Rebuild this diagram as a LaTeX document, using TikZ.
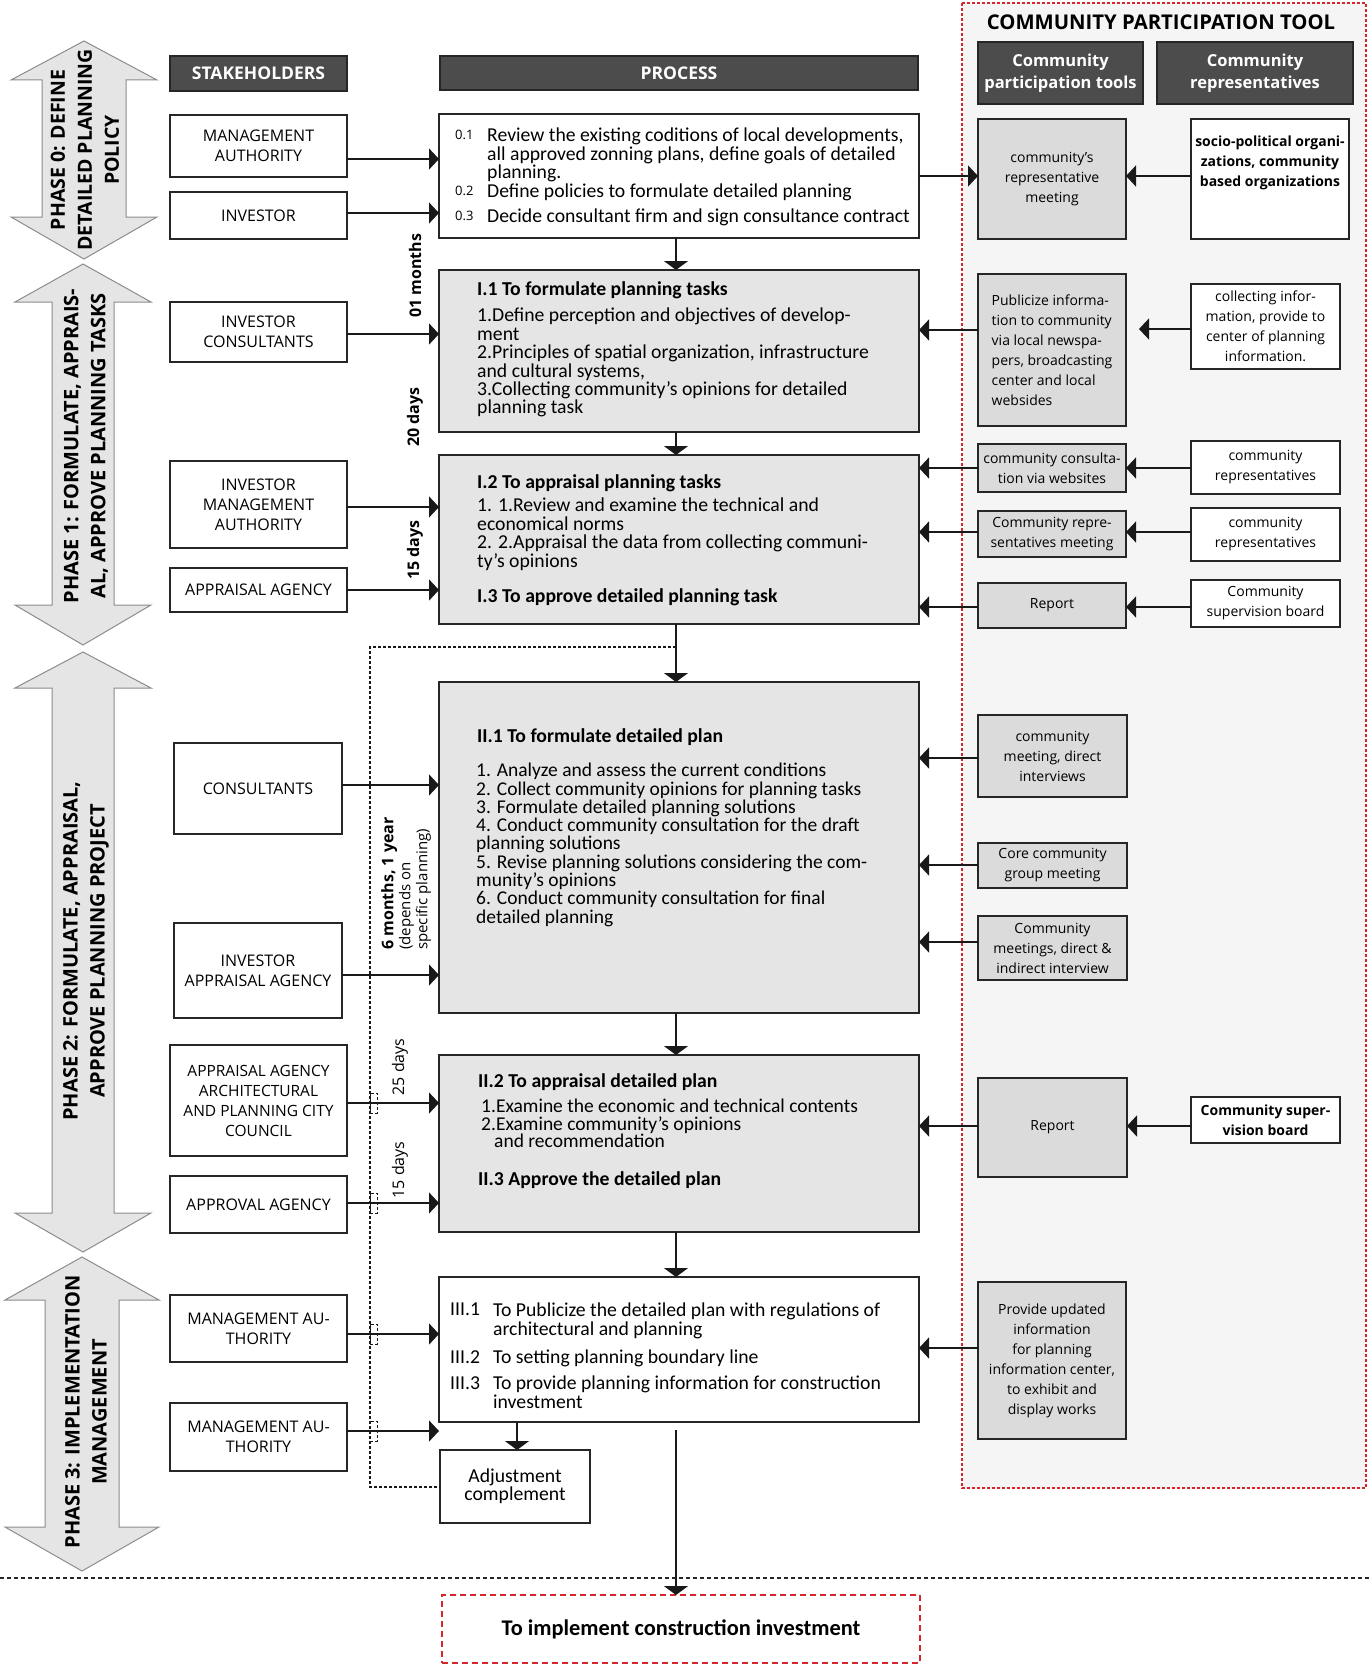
\documentclass[tikz,border=0pt]{standalone}
\usepackage{fontspec}
\setmainfont{Carlito}
\newfontfamily\osans{Open Sans}
\usetikzlibrary{arrows.meta}
\definecolor{redd}{HTML}{D7262B}
\tikzset{
  sz/.style 2 args={minimum width=#1pt, minimum height=#2pt},
  box/.style={draw=black!85, line width=1.3pt, inner sep=0pt, outer sep=0pt, align=center},
  sbox/.style={box, fill=white, font=\osans\fontsize{16}{20}\selectfont},
  hbox/.style={box, fill=black!70, text=white, font=\osans\bfseries\fontsize{16.5}{22}\selectfont},
  pbox/.style={box, fill=black!10},
  wbox/.style={box, fill=white},
  tbox/.style={box, fill=black!14, font=\osans\fontsize{14}{20}\selectfont},
  rbox/.style={box, fill=white, font=\osans\fontsize{14}{20}\selectfont},
  ptxt/.style={inner sep=0pt, anchor=north west, align=left, font=\fontsize{19.7}{18.4}\selectfont},
  ptit/.style={inner sep=0pt, anchor=north west, align=left, font=\bfseries\fontsize{19.7}{18.4}\selectfont},
  numl/.style={inner sep=0pt, anchor=north west, font=\osans\fontsize{13}{18}\selectfont},
  arr/.style={-{Triangle[length=10pt,width=21pt]}, line width=1.3pt, draw=black!90},
  darr/.style={-{Triangle[length=9pt,width=24pt]}, line width=1.3pt, draw=black!90},
  fb/.style={line width=1.1pt, dash pattern=on 3pt off 2pt, draw=black!90},
  phase/.style={fill=black!10, draw=black!45, line width=1pt},
  phtxt/.style={rotate=90, align=center, inner sep=0pt, font=\osans\bfseries\fontsize{20}{27}\selectfont},
  tlab/.style={rotate=90, inner sep=0pt, font=\osans\bfseries\fontsize{16}{18}\selectfont},
  tlabr/.style={rotate=90, inner sep=0pt, font=\osans\fontsize{16}{18}\selectfont}
}
\newcommand\phasearrow[7]{%
  \draw[phase] (#1,#2) -- (#1+#6,#3) -- (#1+#7,#3) -- (#1+#7,#4) -- (#1+#6,#4) -- (#1,#5)
    -- (#1-#6,#4) -- (#1-#7,#4) -- (#1-#7,#3) -- (#1-#6,#3) -- cycle;}
\begin{document}
\begin{tikzpicture}[x=1pt,y=-1pt]
\useasboundingbox (0,0) rectangle (1370,1667);
\fill[white] (0,0) rectangle (1370,1667);

% community region
\draw[redd, dash pattern=on 3pt off 2pt, line width=1.2pt, fill=black!4] (962,3) rectangle (1366,1488);
\node[font=\osans\bfseries\fontsize{20.3}{22}\selectfont] (cpt) at (1161,22) {COMMUNITY PARTICIPATION TOOL};

% phase arrows
\phasearrow{84}{41}{80}{217}{259}{73}{42}
\phasearrow{83}{264}{302}{605}{645}{68}{31}
\phasearrow{83}{652}{688}{1213}{1252}{68}{31}
\phasearrow{82}{1257}{1300}{1527}{1571}{77}{37}
\node[phtxt, font=\osans\bfseries\fontsize{19.5}{27}\selectfont] (ph0) at (85,150) {PHASE 0: DEFINE\\DETAILED PLANNING\\POLICY};
\node[phtxt] (ph1) at (86,446) {PHASE 1: FORMULATE, APPRAIS-\\AL, APPROVE PLANNING TASKS};
\node[phtxt] (ph2) at (86,951) {PHASE 2: FORMULATE, APPRAISAL,\\APPROVE PLANNING PROJECT};
\node[phtxt] (ph3) at (86,1412) {PHASE 3: IMPLEMENTATION\\MANAGEMENT};

% headers
\node[hbox, sz={177}{35}, font=\osans\bfseries\fontsize{17.5}{22}\selectfont] (hst) at (258.5,73.5) {STAKEHOLDERS};
\node[hbox, sz={478}{34}, font=\osans\bfseries\fontsize{17.5}{22}\selectfont] (hpr) at (679,73) {PROCESS};
\node[hbox, sz={165}{62}] (hct) at (1060.5,73) {Community\\participation tools};
\node[hbox, sz={196}{62}] (hcr) at (1255,73) {Community\\representatives};

% stakeholders
\node[sbox, sz={177}{62}] (s1) at (258.5,146) {MANAGEMENT\\AUTHORITY};
\node[sbox, sz={177}{47}] (s2) at (258.5,215.5) {INVESTOR};
\node[sbox, sz={177}{60}] (s3) at (258.5,332) {INVESTOR\\CONSULTANTS};
\node[sbox, sz={177}{87}] (s4) at (258.5,504.5) {INVESTOR\\MANAGEMENT\\AUTHORITY};
\node[sbox, sz={177}{44}] (s5) at (258.5,590) {APPRAISAL AGENCY};
\node[sbox, sz={168}{91}] (s6) at (258,788.5) {CONSULTANTS};
\node[sbox, sz={168}{95}] (s7) at (258,970.5) {INVESTOR\\APPRAISAL AGENCY};
\node[sbox, sz={177}{111}, font=\osans\fontsize{15.5}{20}\selectfont] (s8) at (258.5,1100.5) {APPRAISAL AGENCY\\ARCHITECTURAL\\AND PLANNING CITY\\COUNCIL};
\node[sbox, sz={177}{57}] (s9) at (258.5,1204.5) {APPROVAL AGENCY};
\node[sbox, sz={177}{67}] (s10) at (258.5,1328.5) {MANAGEMENT AU-\\THORITY};
\node[sbox, sz={177}{68}] (s11) at (258.5,1437) {MANAGEMENT AU-\\THORITY};

% process boxes
\node[wbox, sz={480}{124}] (p0) at (679,176) {};
\node[pbox, sz={480}{162}] (p11) at (679,351) {};
\node[pbox, sz={480}{169}] (p12) at (679,539.5) {};
\node[pbox, sz={480}{331}] (p21) at (679,847.5) {};
\node[pbox, sz={480}{177}] (p22) at (679,1143.5) {};
\node[wbox, sz={480}{145}] (p3) at (679,1349.5) {};
\node[wbox, sz={150}{73}, font=\fontsize{19.7}{18.4}\selectfont] (adj) at (515,1486.5) {Adjustment\\complement};
\node[box, draw=redd, dash pattern=on 6pt off 4pt, line width=2.4pt, sz={478}{68}, font=\bfseries\fontsize{22.4}{26}\selectfont] (fin) at (681,1629) {To implement construction investment};

% process texts
\node[numl] (n01) at (455,130) {0.1};
\node[ptxt] (x01) at (487,128) {Review the existing coditions of local developments,\\all approved zonning plans, define goals of detailed\\planning.};
\node[numl] (n02) at (455,186) {0.2};
\node[ptxt] (x02) at (487,184) {Define policies to formulate detailed planning};
\node[numl] (n03) at (455,211) {0.3};
\node[ptxt] (x03) at (487,209) {Decide consultant firm and sign consultance contract};

\node[ptit] (x11t) at (477,281) {I.1 To formulate planning tasks};
\node[ptxt] (x11) at (477,308) {1.Define perception and objectives of develop-\\ment\\2.Principles of spatial organization, infrastructure\\and cultural systems,\\3.Collecting community’s opinions for detailed\\planning task};

\node[ptit] (x12t) at (477,474) {I.2 To appraisal planning tasks};
\node[ptxt] (x12) at (477,498) {1. 1.Review and examine the technical and\\economical norms\\2. 2.Appraisal the data from collecting communi-\\ty’s opinions};
\node[ptit] (x13t) at (477,588) {I.3 To approve detailed planning task};

\node[ptit] (x21t) at (477,728) {II.1 To formulate detailed plan};
\node[ptxt, font=\fontsize{19.5}{18.3}\selectfont] (x21) at (476,763) {1. Analyze and assess the current conditions\\2. Collect community opinions for planning tasks\\3. Formulate detailed planning solutions\\4. Conduct community consultation for the draft\\planning solutions\\5. Revise planning solutions considering the com-\\munity’s opinions\\6. Conduct community consultation for final\\detailed planning};

\node[ptit] (x22t) at (478,1073) {II.2 To appraisal detailed plan};
\node[ptxt, font=\fontsize{19.5}{17.5}\selectfont] (x22) at (481,1099) {1.Examine the economic and technical contents\\2.Examine community’s opinions\\\hspace*{13pt}and recommendation};
\node[ptit] (x23t) at (478,1171) {II.3 Approve the detailed plan};

\node[ptxt] (n31) at (450,1303) {III.1};
\node[ptxt] (x31) at (493,1303) {To Publicize the detailed plan with regulations of\\architectural and planning};
\node[ptxt] (n32) at (450,1350) {III.2};
\node[ptxt] (x32) at (493,1350) {To setting planning boundary line};
\node[ptxt] (n33) at (450,1376) {III.3};
\node[ptxt] (x33) at (493,1376) {To provide planning information for construction\\investment};

% tool boxes
\node[tbox, sz={148}{120}] (t1) at (1052,179) {community’s\\representative\\meeting};
\node[tbox, sz={148}{152}, align=left] (t2) at (1052,350) {Publicize informa-\\tion to community\\via local newspa-\\pers, broadcasting\\center and local\\websides};
\node[tbox, sz={148}{48}] (t3) at (1052,468) {community consulta-\\tion via websites};
\node[tbox, sz={148}{46}] (t4) at (1052,534) {Community repre-\\sentatives meeting};
\node[tbox, sz={148}{45}] (t5) at (1052,605.5) {Report};
\node[tbox, sz={149}{82}] (t6) at (1052.5,756) {community\\meeting, direct\\interviews};
\node[tbox, sz={149}{45}] (t7) at (1052.5,865.5) {Core community\\group meeting};
\node[tbox, sz={149}{64}] (t8) at (1052.5,948) {Community\\meetings, direct \&\\indirect interview};
\node[tbox, sz={149}{99}] (t9) at (1052.5,1127.5) {Report};
\node[tbox, sz={148}{157}] (t10) at (1052,1360.5) {Provide updated\\information\\for planning\\information center,\\to exhibit and\\display works};

% representatives
\node[rbox, sz={158}{120}] (r1) at (1270,179) {};
\node[inner sep=0pt, align=center, font=\osans\bfseries\fontsize{14}{20}\selectfont] (r1x) at (1270,163) {socio-political organi-\\zations, community\\based organizations};
\node[rbox, sz={149}{85}] (r2) at (1265.5,326.5) {collecting infor-\\mation, provide to\\center of planning\\information.};
\node[rbox, sz={149}{53}] (r3) at (1265.5,467.5) {community\\representatives};
\node[rbox, sz={149}{53}] (r4) at (1265.5,534.5) {community\\representatives};
\node[rbox, sz={149}{47}] (r5) at (1265.5,603.5) {Community\\supervision board};
\node[rbox, sz={149}{46}, font=\osans\bfseries\fontsize{14}{20}\selectfont] (r6) at (1265.5,1120) {Community super-\\vision board};

% time labels
\node[tlab] (tl1) at (415,276) {01 months};
\node[tlab] (tl2) at (415,417) {20 days};
\node[tlab] (tl3) at (415,550) {15 days};
\node[rotate=90, anchor=west, align=left, inner sep=0pt, font=\osans\fontsize{15}{17}\selectfont] (tl4) at (406,950) {{\bfseries\fontsize{16}{17}\selectfont 6 months, 1 year}\\(depends on\\specific planning)};
\node[tlabr] (tl5) at (400,1067) {25 days};
\node[tlabr] (tl6) at (400,1170) {15 days};

% stakeholder connectors
\draw[arr] (s1.east |- 0,159) -- (p0.west |- 0,159);
\draw[arr] (s2.east |- 0,213) -- (p0.west |- 0,213);
\draw[arr] (s3.east |- 0,334) -- (p11.west |- 0,334);
\draw[arr] (s4.east |- 0,507) -- (p12.west |- 0,507);
\draw[arr] (s5.east |- 0,590) -- (p12.west |- 0,590);
\draw[arr] (s6.east |- 0,785) -- (p21.west |- 0,785);
\draw[arr] (s7.east |- 0,975) -- (p21.west |- 0,975);
\draw[arr] (s8.east |- 0,1103) -- (p22.west |- 0,1103);
\draw[arr] (s9.east |- 0,1203) -- (p22.west |- 0,1203);
\draw[arr] (s10.east |- 0,1334) -- (p3.west |- 0,1334);
\coordinate (g1) at (439,1431);
\draw[arr] (s11.east |- 0,1431) -- (g1);

% tool connectors
\draw[arr] (p0.east |- 0,176) -- (t1.west |- 0,176);
\draw[arr] (r1.west |- 0,176) -- (t1.east |- 0,176);
\draw[arr] (t2.west |- 0,330) -- (p11.east |- 0,330);
\draw[arr, shorten >=13pt] (r2.west |- 0,329) -- (t2.east |- 0,329);
\draw[arr] (t3.west |- 0,468) -- (p12.east |- 0,468);
\draw[arr] (r3.west |- 0,468) -- (t3.east |- 0,468);
\draw[arr] (t4.west |- 0,532) -- (p12.east |- 0,532);
\draw[arr] (r4.west |- 0,532) -- (t4.east |- 0,532);
\draw[arr] (t5.west |- 0,607) -- (p12.east |- 0,607);
\draw[arr] (r5.west |- 0,607) -- (t5.east |- 0,607);
\draw[arr] (t6.west |- 0,758) -- (p21.east |- 0,758);
\draw[arr] (t7.west |- 0,865) -- (p21.east |- 0,865);
\draw[arr] (t8.west |- 0,942) -- (p21.east |- 0,942);
\draw[arr] (t9.west |- 0,1126) -- (p22.east |- 0,1126);
\draw[arr, line width=2.2pt] (r6.west |- 0,1126) -- (t9.east |- 0,1126);
\draw[arr] (t10.west |- 0,1348) -- (p3.east |- 0,1348);

% process flow
\draw[darr] (p0.south -| 676,0) -- (p11.north -| 676,0);
\draw[darr] (p11.south -| 676,0) -- (p12.north -| 676,0);
\draw[darr] (p12.south -| 676,0) -- (p21.north -| 676,0);
\draw[darr] (p21.south -| 676,0) -- (p22.north -| 676,0);
\draw[darr] (p22.south -| 676,0) -- (p3.north -| 676,0);
\draw[darr] (p3.south -| 517,0) -- (adj.north -| 517,0);
\coordinate (c1) at (676,1430);
\draw[darr] (c1) -- (fin.north -| 676,0);

% feedback dashed
\coordinate (fbA) at (676,647);
\coordinate (fbB) at (370,647);
\coordinate (fbC) at (370,1487);
\draw[fb] (fbA) -- (fbB) -- (fbC) -- (adj.west |- fbC);
\foreach \yy in {1103,1203,1334,1431} \draw[fb, line width=0.9pt] (370,\yy-10) rectangle (377,\yy+10);

% bottom dashed line
\draw[line width=1.4pt, dash pattern=on 4pt off 3pt, draw=black!85] (0,1578) -- (1370,1578);
\end{tikzpicture}
\end{document}
